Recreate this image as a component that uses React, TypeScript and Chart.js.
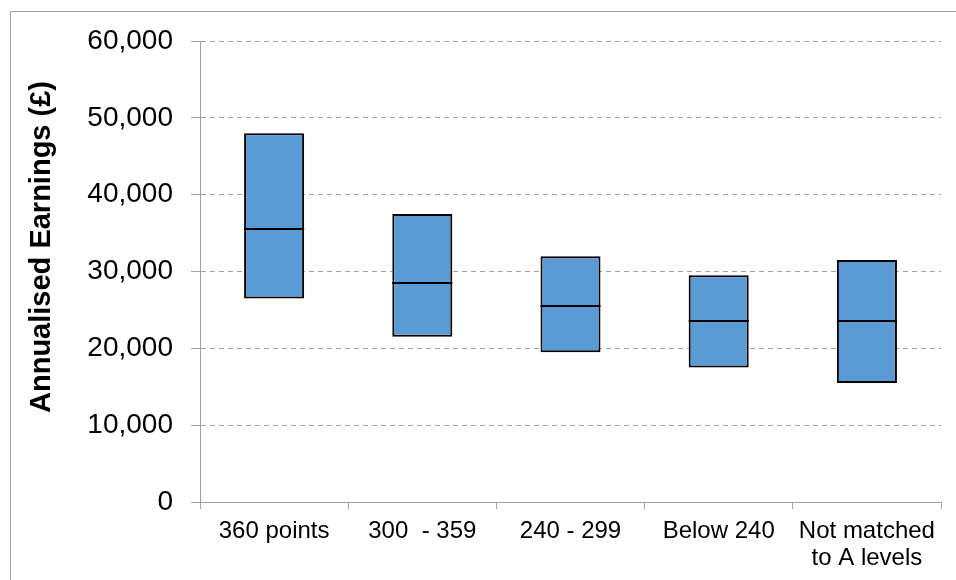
import React, { useEffect, useRef } from 'react';
import { Chart, registerables } from 'chart.js';

Chart.register(...registerables);

const categories: (string | string[])[] = ['360 points', '300  - 359', '240 - 299', 'Below 240', ['Not matched', 'to A levels']];
const lowerQuartile = [26500, 21500, 19500, 17500, 15500];
const medianValues = [35500, 28500, 25500, 23500, 23500];
const upperQuartile = [48000, 37500, 32000, 29500, 31500];
const yTickStep = 10000;
const yMin = 0;
const yMax = 60000;
const yAxisTitle = 'Annualised Earnings (£)';

const FONT = "'Liberation Sans', Arial, Helvetica, sans-serif";
const BOX_FILL = '#5b9bd5';
const GRID = '#a0a0a0';

export default function App() {
  const ref = useRef<HTMLCanvasElement | null>(null);

  useEffect(() => {
    if (!ref.current) return;

    const framePlugin = {
      id: 'frame',
      beforeDraw(chart: any) {
        const ctx = chart.ctx;
        ctx.save();
        ctx.strokeStyle = GRID;
        ctx.lineWidth = 1;
        ctx.beginPath();
        ctx.moveTo(10.5, chart.height);
        ctx.lineTo(10.5, 11.5);
        ctx.lineTo(chart.width, 11.5);
        ctx.stroke();
        ctx.restore();
      },
    };

    const medianPlugin = {
      id: 'medianLines',
      afterDatasetsDraw(chart: any) {
        const ctx = chart.ctx;
        const meta = chart.getDatasetMeta(0);
        const yScale = chart.scales.y;
        ctx.save();
        ctx.strokeStyle = '#000';
        ctx.lineWidth = 2;
        meta.data.forEach((bar: any, i: number) => {
          const y = Math.round(yScale.getPixelForValue(medianValues[i]));
          const half = bar.width / 2;
          ctx.beginPath();
          ctx.moveTo(bar.x - half, y);
          ctx.lineTo(bar.x + half, y);
          ctx.stroke();
        });
        ctx.restore();
      },
    };

    const yTitlePlugin = {
      id: 'yTitle',
      afterDraw(chart: any) {
        const ctx = chart.ctx;
        ctx.save();
        ctx.translate(42, 247);
        ctx.rotate(-Math.PI / 2);
        ctx.font = `bold 29px ${FONT}`;
        ctx.fillStyle = '#000';
        ctx.textAlign = 'center';
        ctx.textBaseline = 'middle';
        ctx.fillText(yAxisTitle, 0, 0);
        ctx.restore();
      },
    };

    const boxes = categories.map((_, i) => [lowerQuartile[i], upperQuartile[i]]);

    const chart = new Chart(ref.current, {
      type: 'bar',
      data: {
        labels: categories as any,
        datasets: [
          {
            label: 'Interquartile range',
            data: boxes as any,
            backgroundColor: BOX_FILL,
            borderColor: '#000',
            borderWidth: 2,
            borderSkipped: false,
            categoryPercentage: 1,
            barPercentage: 0.405,
          },
        ] as any,
      },
      options: {
        responsive: false,
        animation: false,
        layout: { padding: { top: 41, right: 15, bottom: 0, left: 0 } },
        plugins: {
          legend: { display: false },
          tooltip: { enabled: false },
          title: { display: false },
        },
        scales: {
          x: {
            grid: {
              display: true,
              drawOnChartArea: false,
              drawTicks: true,
              tickLength: 7,
              color: GRID,
              offset: true,
            },
            border: { display: true, color: GRID, width: 1 },
            ticks: {
              color: '#000',
              font: { family: FONT, size: 24, lineHeight: 1.12 },
              padding: 9,
              maxRotation: 0,
              autoSkip: false,
            },
            afterFit(scale: any) {
              scale.height = 78;
            },
          },
          y: {
            min: yMin,
            max: yMax,
            grid: {
              color: GRID,
              tickLength: 9,
              tickColor: GRID,
              tickBorderDash: [],
            },
            border: { display: true, color: GRID, width: 1, dash: [5, 4] },
            ticks: {
              stepSize: yTickStep,
              color: '#000',
              font: { family: FONT, size: 28 },
              padding: 18,
              callback: (v: any) => Number(v).toLocaleString('en-US'),
            },
            afterFit(scale: any) {
              scale.width = 200;
            },
          },
        },
      } as any,
      plugins: [framePlugin, medianPlugin, yTitlePlugin],
    });

    return () => chart.destroy();
  }, []);

  return (
    <div style={{ position: 'fixed', left: 0, top: 0, width: 956, height: 580, background: '#fff' }}>
      <canvas ref={ref} width={956} height={580} />
    </div>
  );
}
